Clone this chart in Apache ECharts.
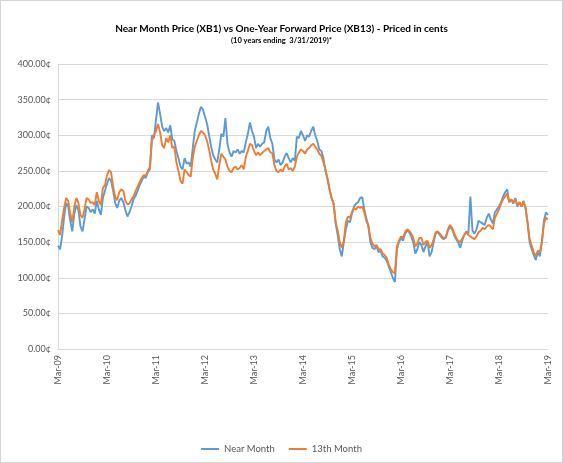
<!DOCTYPE html>
<html>
<head>
<meta charset="utf-8">
<script src="https://cdn.jsdelivr.net/npm/echarts@6/dist/echarts.min.js"></script>
<style>
  html, body { margin: 0; padding: 0; background: #fff; }
  #main { width: 563px; height: 463px; box-sizing: border-box; border: 1px solid #d4d4d4; }
</style>
</head>
<body>
<div id="main"></div>
<script>
// half-month steps starting Mar-09 (index 0) to Mar-19 (index 240)
var STEP = 0.5;
var yearLabels = ['Mar-09', 'Mar-10', 'Mar-11', 'Mar-12', 'Mar-13', 'Mar-14', 'Mar-15', 'Mar-16', 'Mar-17', 'Mar-18', 'Mar-19'];

// Near Month (XB1), cents
var nearMonth = [
  145, 140, 158, 185, 205, 200, 180, 165, 190, 202, 195, 172, 165, 182, 200, 198, 192, 196, 190, 208,
  196, 188, 212, 222, 232, 240, 236, 222, 205, 198, 208, 212, 206, 195, 186, 192, 200, 210, 215, 222,
  230, 236, 242, 240, 248, 252, 300, 296, 322, 346, 330, 312, 306, 310, 304, 314, 294, 292, 278, 268,
  256, 252, 268, 260, 262, 256, 282, 306, 318, 330, 340, 336, 326, 316, 300, 284, 272, 266, 262, 280,
  302, 298, 324, 288, 276, 270, 278, 276, 280, 274, 278, 276, 290, 302, 318, 306, 298, 282, 288, 284,
  288, 290, 306, 312, 296, 288, 266, 262, 266, 258, 262, 270, 275, 268, 262, 268, 264, 298, 296, 306,
  300, 292, 300, 298, 306, 312, 300, 292, 280, 278, 268, 250, 238, 224, 212, 204, 176, 160, 140, 130,
  150, 168, 180, 178, 190, 200, 204, 206, 212, 213, 196, 184, 172, 150, 142, 140, 144, 136, 138, 130,
  128, 124, 116, 108, 100, 94, 140, 150, 156, 152, 162, 166, 164, 158, 150, 134, 140, 150, 146, 136,
  144, 150, 130, 136, 150, 162, 164, 160, 156, 154, 158, 166, 172, 168, 160, 154, 150, 142, 152, 160,
  165, 162, 214, 166, 162, 168, 180, 178, 176, 174, 184, 190, 182, 176, 192, 196, 200, 206, 214, 220,
  224, 206, 210, 204, 212, 200, 206, 200, 208, 198, 176, 150, 140, 132, 125, 136, 130, 150, 180, 192,
  188
];

// 13th Month (XB13), cents
var month13 = [
  167, 160, 180, 198, 212, 208, 190, 178, 200, 212, 205, 188, 184, 196, 212, 210, 205, 206, 202, 220,
  208, 202, 226, 230, 244, 251, 248, 228, 213, 209, 220, 224, 222, 208, 203, 204, 210, 214, 222, 228,
  234, 240, 244, 243, 250, 255, 292, 300, 306, 316, 304, 286, 282, 296, 290, 300, 282, 284, 262, 250,
  236, 232, 252, 248, 244, 242, 268, 284, 292, 300, 306, 304, 300, 292, 280, 265, 252, 246, 238, 258,
  274, 270, 266, 256, 250, 248, 254, 256, 252, 254, 258, 252, 270, 278, 288, 286, 278, 272, 276, 272,
  275, 278, 280, 282, 276, 275, 258, 250, 248, 252, 249, 256, 260, 252, 254, 250, 256, 270, 276, 280,
  278, 274, 280, 282, 286, 288, 284, 280, 274, 271, 262, 252, 240, 224, 212, 204, 178, 166, 150, 142,
  152, 178, 186, 184, 192, 198, 196, 200, 198, 200, 192, 180, 174, 156, 148, 144, 146, 140, 140, 134,
  132, 128, 118, 112, 108, 106, 144, 152, 158, 156, 164, 168, 166, 162, 156, 144, 148, 156, 156, 146,
  150, 152, 142, 146, 154, 164, 165, 162, 158, 156, 156, 168, 174, 170, 163, 156, 152, 150, 155, 160,
  164, 160, 158, 156, 154, 158, 164, 166, 170, 168, 172, 174, 172, 168, 184, 190, 196, 204, 210, 214,
  218, 206, 210, 206, 210, 202, 206, 200, 206, 198, 178, 154, 145, 136, 130, 138, 136, 150, 176, 184,
  182
];

function toPoints(arr) {
  return arr.map(function (v, i) { return [i * STEP, v]; });
}

var chart = echarts.init(document.getElementById('main'), null, { renderer: 'canvas' });
var labelFont = 'Lato, "Open Sans", sans-serif';

var option = {
  animation: false,
  color: ['#5B9BD5', '#ED7D31'],
  title: {
    text: 'Near Month Price (XB1) vs One-Year Forward Price (XB13) - Priced in cents',
    subtext: '(10 years ending  3/31/2019)*',
    left: 'center',
    top: 18,
    itemGap: 3,
    textStyle: { fontFamily: labelFont, fontSize: 10, fontWeight: 'bold', color: '#000' },
    subtextStyle: { fontFamily: labelFont, fontSize: 7.5, fontWeight: 'bold', color: '#000' }
  },
  legend: {
    bottom: 3,
    left: 'center',
    icon: 'rect',
    itemWidth: 18,
    itemHeight: 2,
    itemGap: 14,
    textStyle: { fontFamily: labelFont, fontSize: 9.5, color: '#595959' },
    data: ['Near Month', '13th Month']
  },
  grid: {
    left: 57,
    right: 14,
    top: 63,
    bottom: 113,
    outerBoundsMode: 'none'
  },
  xAxis: {
    type: 'value',
    min: 0,
    max: 120,
    interval: 12,
    axisLine: { show: true, lineStyle: { color: '#d9d9d9', width: 1 } },
    axisTick: { show: false },
    splitLine: { show: false },
    axisLabel: {
      rotate: 90,
      margin: 6,
      fontFamily: labelFont,
      fontSize: 9,
      color: '#595959',
      formatter: function (v) { return yearLabels[Math.round(v / 12)]; }
    }
  },
  yAxis: {
    type: 'value',
    min: 0,
    max: 400,
    interval: 50,
    axisLine: { show: true, lineStyle: { color: '#d9d9d9', width: 1 } },
    axisTick: { show: false },
    splitLine: { lineStyle: { color: '#d9d9d9', width: 1 } },
    axisLabel: {
      margin: 7,
      fontFamily: labelFont,
      fontSize: 9,
      color: '#595959',
      formatter: function (v) { return v.toFixed(2) + '¢'; }
    }
  },
  series: [
    {
      name: 'Near Month',
      type: 'line',
      showSymbol: false,
      symbol: 'none',
      sampling: 'none',
      lineStyle: { width: 1.9, color: '#5B9BD5' },
      data: toPoints(nearMonth)
    },
    {
      name: '13th Month',
      type: 'line',
      showSymbol: false,
      symbol: 'none',
      sampling: 'none',
      lineStyle: { width: 1.9, color: '#ED7D31' },
      data: toPoints(month13)
    }
  ]
};

chart.setOption(option);
</script>
</body>
</html>
